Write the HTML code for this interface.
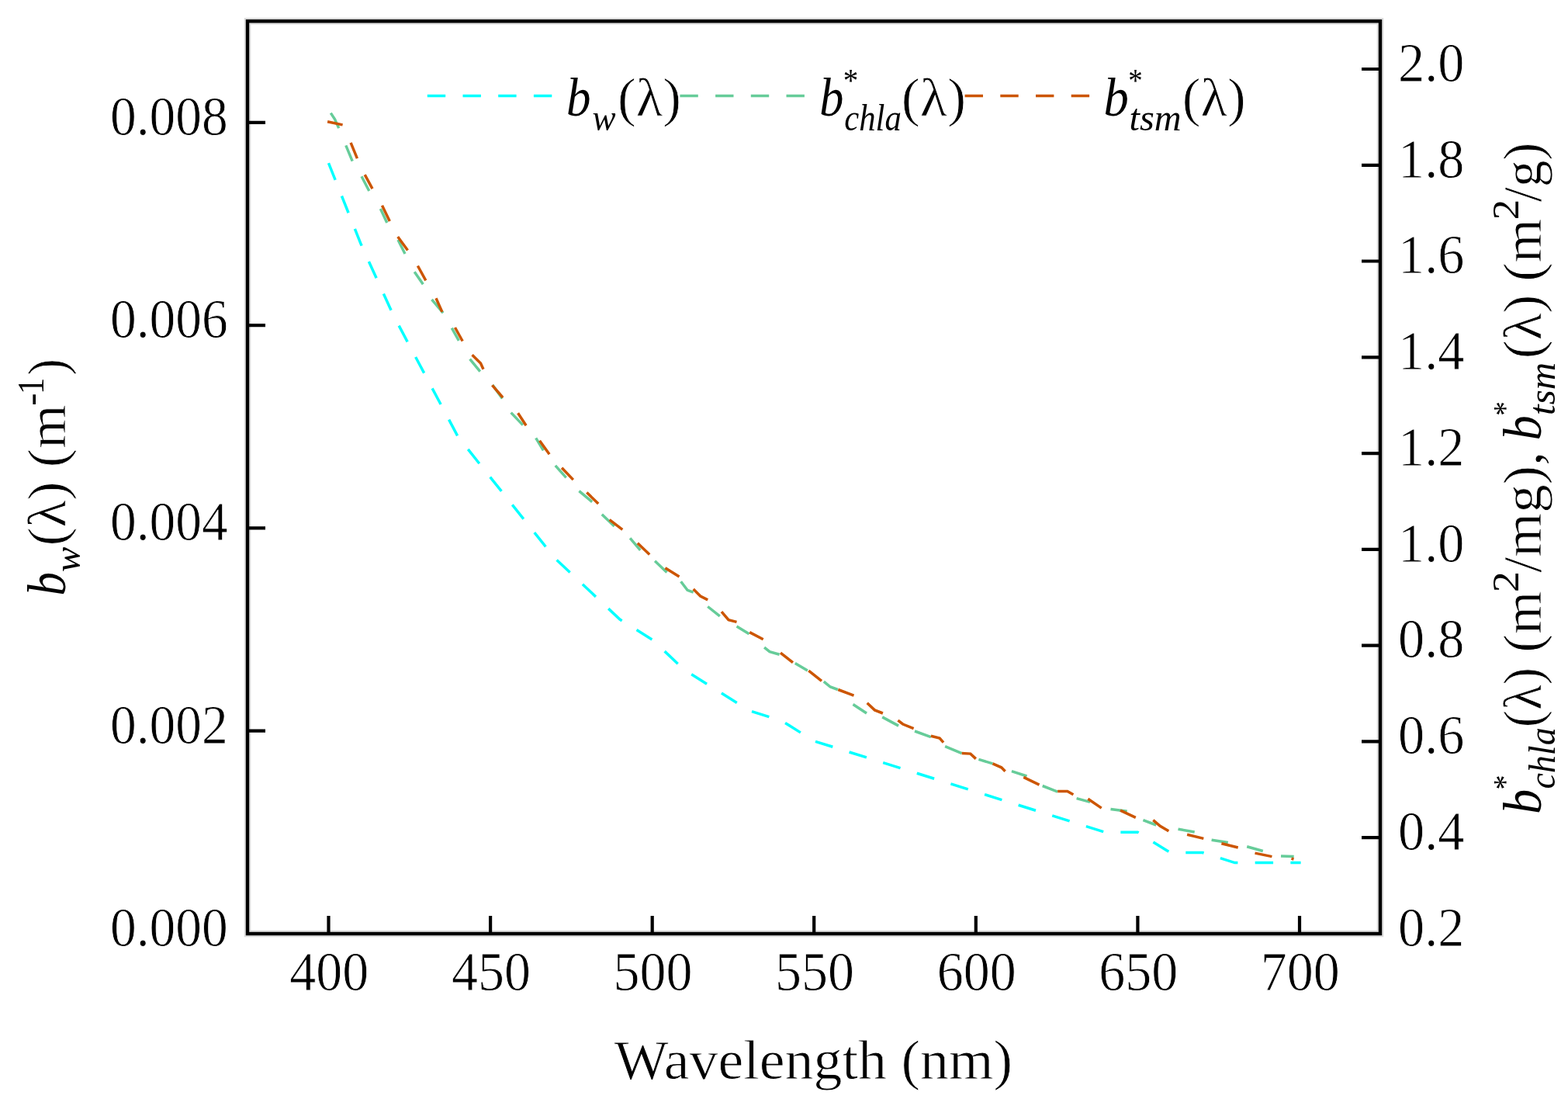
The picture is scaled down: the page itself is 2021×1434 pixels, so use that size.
<!DOCTYPE html>
<html><head><meta charset="utf-8"><title>Scattering spectra</title>
<style>html,body{margin:0;padding:0;background:#fff;overflow:hidden}svg{display:block}</style>
</head><body>
<svg width="2021" height="1434" viewBox="0 0 2021 1434" font-family='"Liberation Serif", "DejaVu Serif", serif' fill="#000">
<style>.u{stroke:#fff;stroke-width:0.8px}</style>
<rect width="2021" height="1434" fill="#fff"/>
<rect x="319.0" y="27.3" width="1460.0" height="1175.7" fill="none" stroke="#dcdcdc" stroke-width="8.5"/>
<rect x="319.0" y="27.3" width="1460.0" height="1175.7" fill="none" stroke="#000" stroke-width="4.4"/>
<path d="M319.0 941.7 H342.0 M319.0 680.4 H342.0 M319.0 419.1 H342.0 M319.0 157.8 H342.0 M1779.0 1079.2 H1755.0 M1779.0 955.4 H1755.0 M1779.0 831.7 H1755.0 M1779.0 707.9 H1755.0 M1779.0 584.1 H1755.0 M1779.0 460.3 H1755.0 M1779.0 336.5 H1755.0 M1779.0 212.8 H1755.0 M1779.0 89.0 H1755.0 M423.5 1203.0 V1180.0 M632.1 1203.0 V1180.0 M840.7 1203.0 V1180.0 M1049.2 1203.0 V1180.0 M1257.8 1203.0 V1180.0 M1466.4 1203.0 V1180.0 M1675.0 1203.0 V1180.0" stroke="#000" stroke-width="4.2" fill="none"/>
<polyline points="423.50,210.06 465.22,314.58 506.93,406.03 548.65,484.42 590.37,562.82 632.08,615.07 673.80,667.33 715.52,719.60 757.23,758.79 798.95,797.99 840.67,824.12 882.38,863.31 924.10,889.44 965.82,915.57 1007.53,928.63 1049.25,954.76 1090.97,967.83 1132.68,980.89 1174.40,993.96 1216.12,1007.02 1257.83,1020.09 1299.55,1033.15 1341.27,1046.22 1382.98,1059.28 1424.70,1072.35 1466.42,1072.35 1508.13,1098.48 1549.85,1098.48 1591.57,1111.55 1633.28,1111.55 1676.60,1111.55" fill="none" stroke="#00FFFF" stroke-width="3.5" stroke-dasharray="23.4 22.3"/>
<path d="M426.3 145.6 L431.5 153.5 L436.7 165.1 M445.8 187.4 L454.2 207.6 M466.0 227.2 L475.8 246.0 M490.4 269.0 L498.8 287.1 M513.0 309.0 L522.0 327.0 M534.2 350.2 L545.3 366.2 M556.5 385.8 L571.1 403.2 M582.3 422.7 L591.4 438.8 M605.6 462.6 L618.8 478.6 M634.9 496.0 L647.4 513.5 M658.6 531.6 L673.9 547.6 M690.7 564.4 L700.4 580.4 M715.8 599.9 L729.7 615.3 M746.4 632.7 L763.2 646.7 M775.8 662.8 L791.8 678.1 M812.1 693.4 L825.3 708.8 M844.1 722.7 L859.5 737.4 M877.6 749.2 L886.0 760.4 L893.7 763.2 M912.2 781.5 L927.8 793.9 M949.5 806.9 L965.5 816.7 M985.1 834.1 L992.0 839.7 L1004.6 843.2 M1024.8 854.4 L1040.9 864.1 M1061.8 878.1 L1070.2 885.0 L1079.9 888.5 M1099.5 907.5 L1117.0 919.0 M1137.2 923.9 L1158.1 935.1 M1179.0 942.0 L1199.9 949.7 M1218.1 961.6 L1239.7 970.6 M1261.4 978.4 L1279.5 983.9 M1303.9 993.7 L1323.5 1000.0 M1343.7 1012.5 L1363.2 1020.2 M1387.6 1028.6 L1405.0 1033.4 M1431.5 1042.5 L1452.7 1045.2 M1473.4 1056.6 L1490.2 1063.0 M1518.5 1068.2 L1539.7 1072.0 M1561.6 1082.3 L1582.8 1085.6 M1607.2 1090.7 L1627.8 1096.5 M1651.0 1102.9 L1667.7 1103.6" fill="none" stroke="#66CC99" stroke-width="3.5"/>
<path d="M422.1 156.7 L441.6 160.9 M452.1 183.9 L460.4 204.2 M470.2 225.1 L480.0 243.2 M492.5 264.8 L502.3 285.0 M512.7 305.0 L525.5 322.5 M538.4 342.5 L548.8 361.4 M562.0 384.2 L569.9 401.9 M586.5 422.0 L596.2 439.5 M608.6 457.3 L619.5 468.1 L623.0 475.8 M634.4 496.4 L648.1 512.1 M667.6 532.3 L678.1 548.3 M695.5 567.8 L708.1 585.3 M724.1 602.7 L738.8 618.1 M756.3 634.5 L771.2 649.1 M785.6 669.7 L802.3 682.3 M821.8 699.7 L837.2 714.4 M857.4 731.8 L875.5 743.0 M893.7 759.0 L902.7 768.1 L912.2 772.9 M930.0 788.1 L939.0 798.6 L949.5 801.4 M966.2 814.6 L983.7 823.7 M1006.0 841.1 L1022.0 853.7 M1042.3 864.1 L1059.0 877.4 M1080.3 888.5 L1100.5 896.1 M1117.7 905.8 L1127.4 914.9 L1137.9 919.0 M1157.4 928.1 L1163.7 933.0 L1177.6 938.6 M1199.9 948.3 L1211.1 951.1 L1216.0 956.7 M1239.7 970.6 L1250.8 971.1 L1257.8 977.6 M1279.5 983.9 L1290.7 988.8 L1295.6 993.7 M1319.3 1001.4 L1339.5 1011.1 M1363.2 1019.5 L1375.8 1019.5 L1383.4 1023.7 M1402.3 1029.3 L1419.7 1041.1 M1444.0 1044.2 L1463.8 1053.4 M1486.3 1056.6 L1495.3 1064.3 L1506.3 1070.8 M1530.1 1075.3 L1551.3 1080.4 M1574.4 1086.8 L1595.7 1092.0 M1617.5 1099.1 L1639.4 1103.6 M1664.5 1106.1 L1667.5 1107.0" fill="none" stroke="#CC5500" stroke-width="3.5"/>
<path d="M550.8 123.5 H712" stroke="#00FFFF" stroke-width="3.5" stroke-dasharray="23.4 22.3"/>
<path d="M876.4 123.5 H1037.5" stroke="#66CC99" stroke-width="3.5" stroke-dasharray="23.4 22.3"/>
<path d="M1243.6 123.5 H1404.7" stroke="#CC5500" stroke-width="3.5" stroke-dasharray="23.4 22.3"/>
<text x="729.90" y="148.50" font-size="70.0" font-style="italic" textLength="31.50" lengthAdjust="spacingAndGlyphs">b</text>
<text x="763.46" y="167.50" font-size="48.0" font-style="italic" textLength="30.05" lengthAdjust="spacingAndGlyphs">w</text>
<text x="795.95" y="148.50" font-size="70.0" class="u" textLength="81.96" lengthAdjust="spacingAndGlyphs">(λ)</text>
<text x="1056.23" y="148.50" font-size="70.0" font-style="italic" textLength="31.15" lengthAdjust="spacingAndGlyphs">b</text>
<text x="1086.74" y="117.90" font-size="42.0" textLength="19.52" lengthAdjust="spacingAndGlyphs">*</text>
<text x="1088.21" y="167.50" font-size="48.0" font-style="italic" textLength="73.55" lengthAdjust="spacingAndGlyphs">chla</text>
<text x="1161.69" y="148.50" font-size="70.0" class="u" textLength="83.46" lengthAdjust="spacingAndGlyphs">(λ)</text>
<text x="1422.53" y="148.50" font-size="70.0" font-style="italic" textLength="32.32" lengthAdjust="spacingAndGlyphs">b</text>
<text x="1454.25" y="117.90" font-size="42.0" textLength="18.41" lengthAdjust="spacingAndGlyphs">*</text>
<text x="1455.49" y="167.50" font-size="48.0" font-style="italic" textLength="67.01" lengthAdjust="spacingAndGlyphs">tsm</text>
<text x="1523.75" y="148.50" font-size="70.0" class="u" textLength="81.85" lengthAdjust="spacingAndGlyphs">(λ)</text>
<text x="791.80" y="1390.40" font-size="71.0" class="u" textLength="513.42" lengthAdjust="spacingAndGlyphs">Wavelength (nm)</text>
<g transform="translate(84.0 764.8) rotate(-90)"><text x="-2.60" y="0.00" font-size="70.0" font-style="italic" textLength="30.33" lengthAdjust="spacingAndGlyphs">b</text><text x="27.69" y="19.00" font-size="48.0" font-style="italic" textLength="32.33" lengthAdjust="spacingAndGlyphs">w</text><text x="61.21" y="0.00" font-size="70.0" class="u" textLength="83.03" lengthAdjust="spacingAndGlyphs">(λ)</text><text x="162.58" y="0.00" font-size="70.0" class="u" textLength="80.92" lengthAdjust="spacingAndGlyphs">(m</text><text x="241.97" y="-28.00" font-size="48.0" textLength="16.25" lengthAdjust="spacingAndGlyphs">-</text><text x="256.87" y="-28.00" font-size="48.0" textLength="21.18" lengthAdjust="spacingAndGlyphs">1</text><text x="281.14" y="0.00" font-size="70.0" class="u" textLength="21.63" lengthAdjust="spacingAndGlyphs">)</text></g>
<g transform="translate(1985.8 1046.2) rotate(-90)"><text x="-2.76" y="0.00" font-size="70.0" font-style="italic" textLength="32.20" lengthAdjust="spacingAndGlyphs">b</text><text x="28.79" y="-32.00" font-size="42.0" textLength="19.02" lengthAdjust="spacingAndGlyphs">*</text><text x="29.64" y="18.00" font-size="48.0" font-style="italic" textLength="79.23" lengthAdjust="spacingAndGlyphs">chla</text><text x="109.02" y="0.00" font-size="70.0" class="u" textLength="77.34" lengthAdjust="spacingAndGlyphs">(λ)</text><text x="205.46" y="0.00" font-size="70.0" class="u" textLength="78.92" lengthAdjust="spacingAndGlyphs">(m</text><text x="282.84" y="-29.00" font-size="48.0" textLength="27.16" lengthAdjust="spacingAndGlyphs">2</text><text x="308.20" y="0.00" font-size="70.0" class="u" textLength="156.33" lengthAdjust="spacingAndGlyphs">/mg),</text><text x="478.73" y="0.00" font-size="70.0" font-style="italic" textLength="32.32" lengthAdjust="spacingAndGlyphs">b</text><text x="510.52" y="-32.00" font-size="42.0" textLength="18.65" lengthAdjust="spacingAndGlyphs">*</text><text x="511.26" y="18.00" font-size="48.0" font-style="italic" textLength="67.96" lengthAdjust="spacingAndGlyphs">tsm</text><text x="584.02" y="0.00" font-size="70.0" class="u" textLength="82.71" lengthAdjust="spacingAndGlyphs">(λ)</text><text x="683.38" y="0.00" font-size="70.0" class="u" textLength="80.92" lengthAdjust="spacingAndGlyphs">(m</text><text x="762.90" y="-29.00" font-size="48.0" textLength="26.40" lengthAdjust="spacingAndGlyphs">2</text><text x="786.00" y="0.00" font-size="70.0" class="u" textLength="76.52" lengthAdjust="spacingAndGlyphs">/g)</text></g>
<text class="u" x="142.01" y="1218.80" font-size="72.5" textLength="151.77" lengthAdjust="spacingAndGlyphs">0.000</text>
<text class="u" x="142.01" y="957.50" font-size="72.5" textLength="151.77" lengthAdjust="spacingAndGlyphs">0.002</text>
<text class="u" x="142.01" y="696.20" font-size="72.5" textLength="151.77" lengthAdjust="spacingAndGlyphs">0.004</text>
<text class="u" x="142.01" y="434.90" font-size="72.5" textLength="151.77" lengthAdjust="spacingAndGlyphs">0.006</text>
<text class="u" x="142.01" y="173.60" font-size="72.5" textLength="151.77" lengthAdjust="spacingAndGlyphs">0.008</text>
<text class="u" x="1802.08" y="1218.80" font-size="72.5" textLength="85.29" lengthAdjust="spacingAndGlyphs">0.2</text>
<text class="u" x="1802.08" y="1095.02" font-size="72.5" textLength="85.29" lengthAdjust="spacingAndGlyphs">0.4</text>
<text class="u" x="1802.08" y="971.24" font-size="72.5" textLength="85.29" lengthAdjust="spacingAndGlyphs">0.6</text>
<text class="u" x="1802.08" y="847.46" font-size="72.5" textLength="85.29" lengthAdjust="spacingAndGlyphs">0.8</text>
<text class="u" x="1802.08" y="723.68" font-size="72.5" textLength="85.29" lengthAdjust="spacingAndGlyphs">1.0</text>
<text class="u" x="1802.08" y="599.90" font-size="72.5" textLength="85.29" lengthAdjust="spacingAndGlyphs">1.2</text>
<text class="u" x="1802.08" y="476.12" font-size="72.5" textLength="85.29" lengthAdjust="spacingAndGlyphs">1.4</text>
<text class="u" x="1802.08" y="352.34" font-size="72.5" textLength="85.29" lengthAdjust="spacingAndGlyphs">1.6</text>
<text class="u" x="1802.08" y="228.56" font-size="72.5" textLength="85.29" lengthAdjust="spacingAndGlyphs">1.8</text>
<text class="u" x="1802.08" y="104.78" font-size="72.5" textLength="85.29" lengthAdjust="spacingAndGlyphs">2.0</text>
<text class="u" x="373.36" y="1276.40" font-size="72.5" textLength="101.91" lengthAdjust="spacingAndGlyphs">400</text>
<text class="u" x="581.95" y="1276.40" font-size="72.5" textLength="101.91" lengthAdjust="spacingAndGlyphs">450</text>
<text class="u" x="790.53" y="1276.40" font-size="72.5" textLength="101.91" lengthAdjust="spacingAndGlyphs">500</text>
<text class="u" x="999.11" y="1276.40" font-size="72.5" textLength="101.91" lengthAdjust="spacingAndGlyphs">550</text>
<text class="u" x="1207.70" y="1276.40" font-size="72.5" textLength="101.91" lengthAdjust="spacingAndGlyphs">600</text>
<text class="u" x="1416.28" y="1276.40" font-size="72.5" textLength="101.91" lengthAdjust="spacingAndGlyphs">650</text>
<text class="u" x="1624.86" y="1276.40" font-size="72.5" textLength="101.91" lengthAdjust="spacingAndGlyphs">700</text>
</svg>
</body></html>
